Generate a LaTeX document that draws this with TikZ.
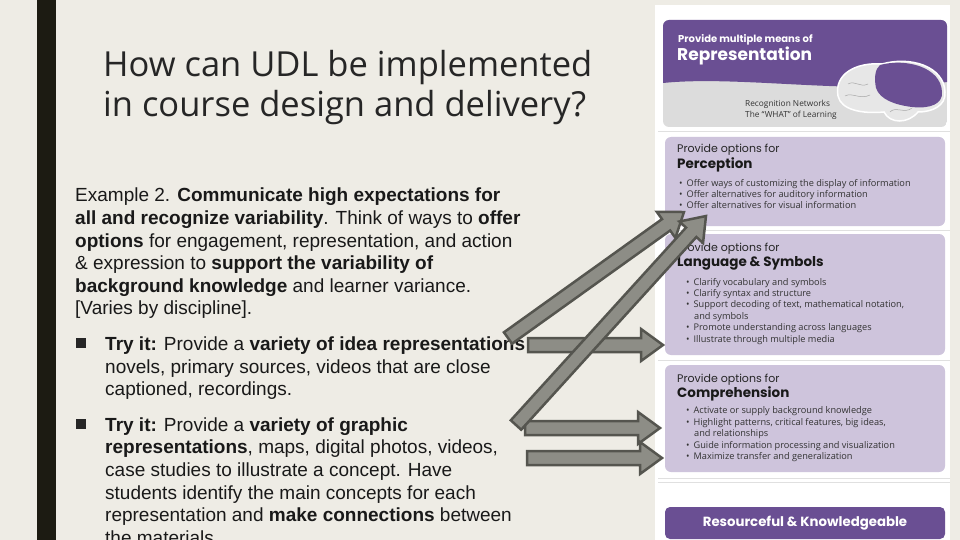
\documentclass[tikz,border=0pt]{standalone}
\usepackage{fontspec}
\setmainfont{Liberation Sans}
\newfontfamily\titlefont{Open Sans}
\newfontfamily\panelfont{Open Sans}
\newfontfamily\headfont{Poppins}
\usetikzlibrary{calc}
\definecolor{bg}{HTML}{EEECE5}
\definecolor{bar}{HTML}{1C1B12}
\definecolor{udlpurple}{HTML}{6A4F93}
\definecolor{udllight}{HTML}{CEC4DC}
\definecolor{udlgray}{HTML}{DCDCDC}
\definecolor{arrfill}{HTML}{8D8D86}
\definecolor{arrdraw}{HTML}{55554F}
\tikzset{
 body/.style={anchor=base west, inner sep=0pt, font=\fontsize{19}{21}\selectfont, text=black!90},
 ptxt/.style={anchor=base west, inner sep=0pt, font=\panelfont\fontsize{9.2}{10}\selectfont, text=black!80},
 phead/.style={anchor=base west, inner sep=0pt, font=\headfont\fontsize{11}{12}\selectfont, text=black!85},
 pbold/.style={anchor=base west, inner sep=0pt, font=\headfont\bfseries\fontsize{13.5}{14}\selectfont, text=black!90},
 optbox/.style={fill=udllight, rounded corners=6pt},
 blockarrow/.style={fill=arrfill, draw=arrdraw, line width=2.5pt, line join=miter},
}
\newcommand\blkarrow[2]{%
 \path let \p1=($(#2)-(#1)$), \n1={atan2(\y1,\x1)}, \n2={veclen(\x1,\y1)} in
  [blockarrow, shift={(#1)}, rotate=\n1]
  (0,7) -- (\n2-22,7) -- (\n2-22,16) -- (\n2,0) -- (\n2-22,-16) -- (\n2-22,-7) -- (0,-7) -- cycle;}
\begin{document}
\begin{tikzpicture}[x=1pt,y=-1pt]
\useasboundingbox (0,0) rectangle (960,540);
\clip (0,0) rectangle (960,540);
\fill[bg] (0,0) rectangle (960,540);
\fill[bar] (37,0) rectangle (56,540);
% title
\node[anchor=base west, inner sep=0pt, font=\titlefont\fontsize{34.5}{40}\selectfont, text=black!85] (t1) at (103,77) {How can UDL be implemented};
\node[anchor=base west, inner sep=0pt, font=\titlefont\fontsize{34.5}{40}\selectfont, text=black!85] (t2) at (103,117) {in course design and delivery?};
% body
\node[body] (b1) at (75,201) {Example 2. \textbf{Communicate high expectations for}};
\node[body] (b2) at (75,224) {\textbf{all and recognize variability}. Think of ways to \textbf{offer}};
\node[body] (b3) at (75,247) {\textbf{options} for engagement, representation, and action};
\node[body] (b4) at (75,269) {\& expression to \textbf{support the variability of}};
\node[body] (b5) at (75,292) {\textbf{background knowledge} and learner variance.};
\node[body] (b6) at (75,314) {[Varies by discipline].};
\fill[black!85] (76,338) rectangle (86,348);
\node[body] (c1) at (105,350) {\textbf{Try it:} Provide a \textbf{variety of idea representations}};
\node[body] (c2) at (105,373) {novels, primary sources, videos that are close};
\node[body] (c3) at (105,395) {captioned, recordings.};
\fill[black!85] (76,419) rectangle (86,429);
\node[body] (d1) at (105,431) {\textbf{Try it:} Provide a \textbf{variety of graphic}};
\node[body] (d2) at (105,453) {\textbf{representations}, maps, digital photos, videos,};
\node[body] (d3) at (105,476) {case studies to illustrate a concept. Have};
\node[body] (d4) at (105,499) {students identify the main concepts for each};
\node[body] (d5) at (105,521) {representation and \textbf{make connections} between};
\node[body] (d6) at (105,544) {the materials.};
% right panel
\fill[white] (655,5) rectangle (950,540);
\draw[black!12] (658,131) -- (950,131) (658,230) -- (950,230) (658,360) -- (950,360) (658,478) -- (950,478) (658,482) -- (950,482);
\begin{scope}
\clip[rounded corners=6pt] (663,20) rectangle (947,127);
\fill[udlgray] (663,20) rectangle (947,127);
\fill[udlpurple] (663,20) -- (947,20) -- (947,82) .. controls (860,96) and (740,75) .. (663,83) -- cycle;
% brain
\fill[udlgray!70!white, draw=white, line width=1.5pt] (838,96) .. controls (834,74) and (856,62) .. (882,64) .. controls (910,56) and (944,66) .. (945,92) .. controls (946,106) and (932,112) .. (918,112) .. controls (908,124) and (890,124) .. (884,112) .. controls (862,114) and (841,110) .. (838,96) -- cycle;
\fill[udlpurple] (880,65) .. controls (906,58) and (941,67) .. (942,92) .. controls (943,104) and (930,109) .. (912,107) .. controls (896,105) and (880,100) .. (876,88) .. controls (874,78) and (875,69) .. (880,65) -- cycle;
\draw[gray!70, line width=0.5pt] (848,84) .. controls (855,80) and (860,88) .. (868,84) (845,96) .. controls (852,92) and (860,100) .. (870,95) (890,112) .. controls (895,106) and (905,114) .. (912,108);
\end{scope}
\node[anchor=base west, inner sep=0pt, font=\headfont\bfseries\fontsize{10}{11}\selectfont, text=white] (h1) at (678,43) {Provide multiple means of};
\node[anchor=base west, inner sep=0pt, font=\headfont\bfseries\fontsize{17}{19}\selectfont, text=white] (h2) at (677,61) {Representation};
\node[anchor=base west, inner sep=0pt, font=\panelfont\fontsize{8.3}{9}\selectfont, text=black!80] (h3) at (745,107) {Recognition Networks};
\node[anchor=base west, inner sep=0pt, font=\panelfont\fontsize{8.3}{9}\selectfont, text=black!80] (h4) at (745,118) {The “WHAT” of Learning};
% perception
\fill[optbox] (665,137) rectangle (945,226);
\node[phead] (p1) at (677,153) {Provide options for};
\node[pbold] (p2) at (677,168) {Perception};
\node[ptxt] (p3) at (679,186) {\textbullet\ \,Offer ways of customizing the display of information};
\node[ptxt] (p4) at (679,197) {\textbullet\ \,Offer alternatives for auditory information};
\node[ptxt] (p5) at (679,208) {\textbullet\ \,Offer alternatives for visual information};
% language
\fill[optbox] (665,234) rectangle (945,355);
\node[phead] (l1) at (677,251) {Provide options for};
\node[pbold] (l2) at (677,266) {Language \& Symbols};
\node[ptxt] (l3) at (686,285) {\textbullet\ \,Clarify vocabulary and symbols};
\node[ptxt] (l4) at (686,296) {\textbullet\ \,Clarify syntax and structure};
\node[ptxt] (l5) at (686,307) {\textbullet\ \,Support decoding of text, mathematical notation,};
\node[ptxt] (l6) at (694,319) {and symbols};
\node[ptxt] (l7) at (686,330) {\textbullet\ \,Promote understanding across languages};
\node[ptxt] (l8) at (686,342) {\textbullet\ \,Illustrate through multiple media};
% comprehension
\fill[optbox] (665,365) rectangle (945,472);
\node[phead] (k1) at (677,382) {Provide options for};
\node[pbold] (k2) at (677,397) {Comprehension};
\node[ptxt] (k3) at (686,413) {\textbullet\ \,Activate or supply background knowledge};
\node[ptxt] (k4) at (686,425) {\textbullet\ \,Highlight patterns, critical features, big ideas,};
\node[ptxt] (k5) at (694,436) {and relationships};
\node[ptxt] (k6) at (686,448) {\textbullet\ \,Guide information processing and visualization};
\node[ptxt] (k7) at (686,459) {\textbullet\ \,Maximize transfer and generalization};
% resourceful
\fill[udlpurple, rounded corners=5pt] (665,507) rectangle (945,539);
\node[font=\headfont\bfseries\fontsize{13.3}{14}\selectfont, text=white, inner sep=0pt] (r1) at (805,523) {Resourceful \& Knowledgeable};
% arrows
\coordinate (a3s) at (528,345); \coordinate (a3e) at (663,345);
\coordinate (a4s) at (525,428); \coordinate (a4e) at (660,428);
\coordinate (a5s) at (527,458); \coordinate (a5e) at (662,458);
\coordinate (a1s) at (508,338); \coordinate (a1e) at (684,212);
\coordinate (a2s) at (516,425); \coordinate (a2e) at (706,216);
\blkarrow{a3s}{a3e}
\blkarrow{a4s}{a4e}
\blkarrow{a5s}{a5e}
\blkarrow{a1s}{a1e}
\blkarrow{a2s}{a2e}
\end{tikzpicture}
\end{document}
